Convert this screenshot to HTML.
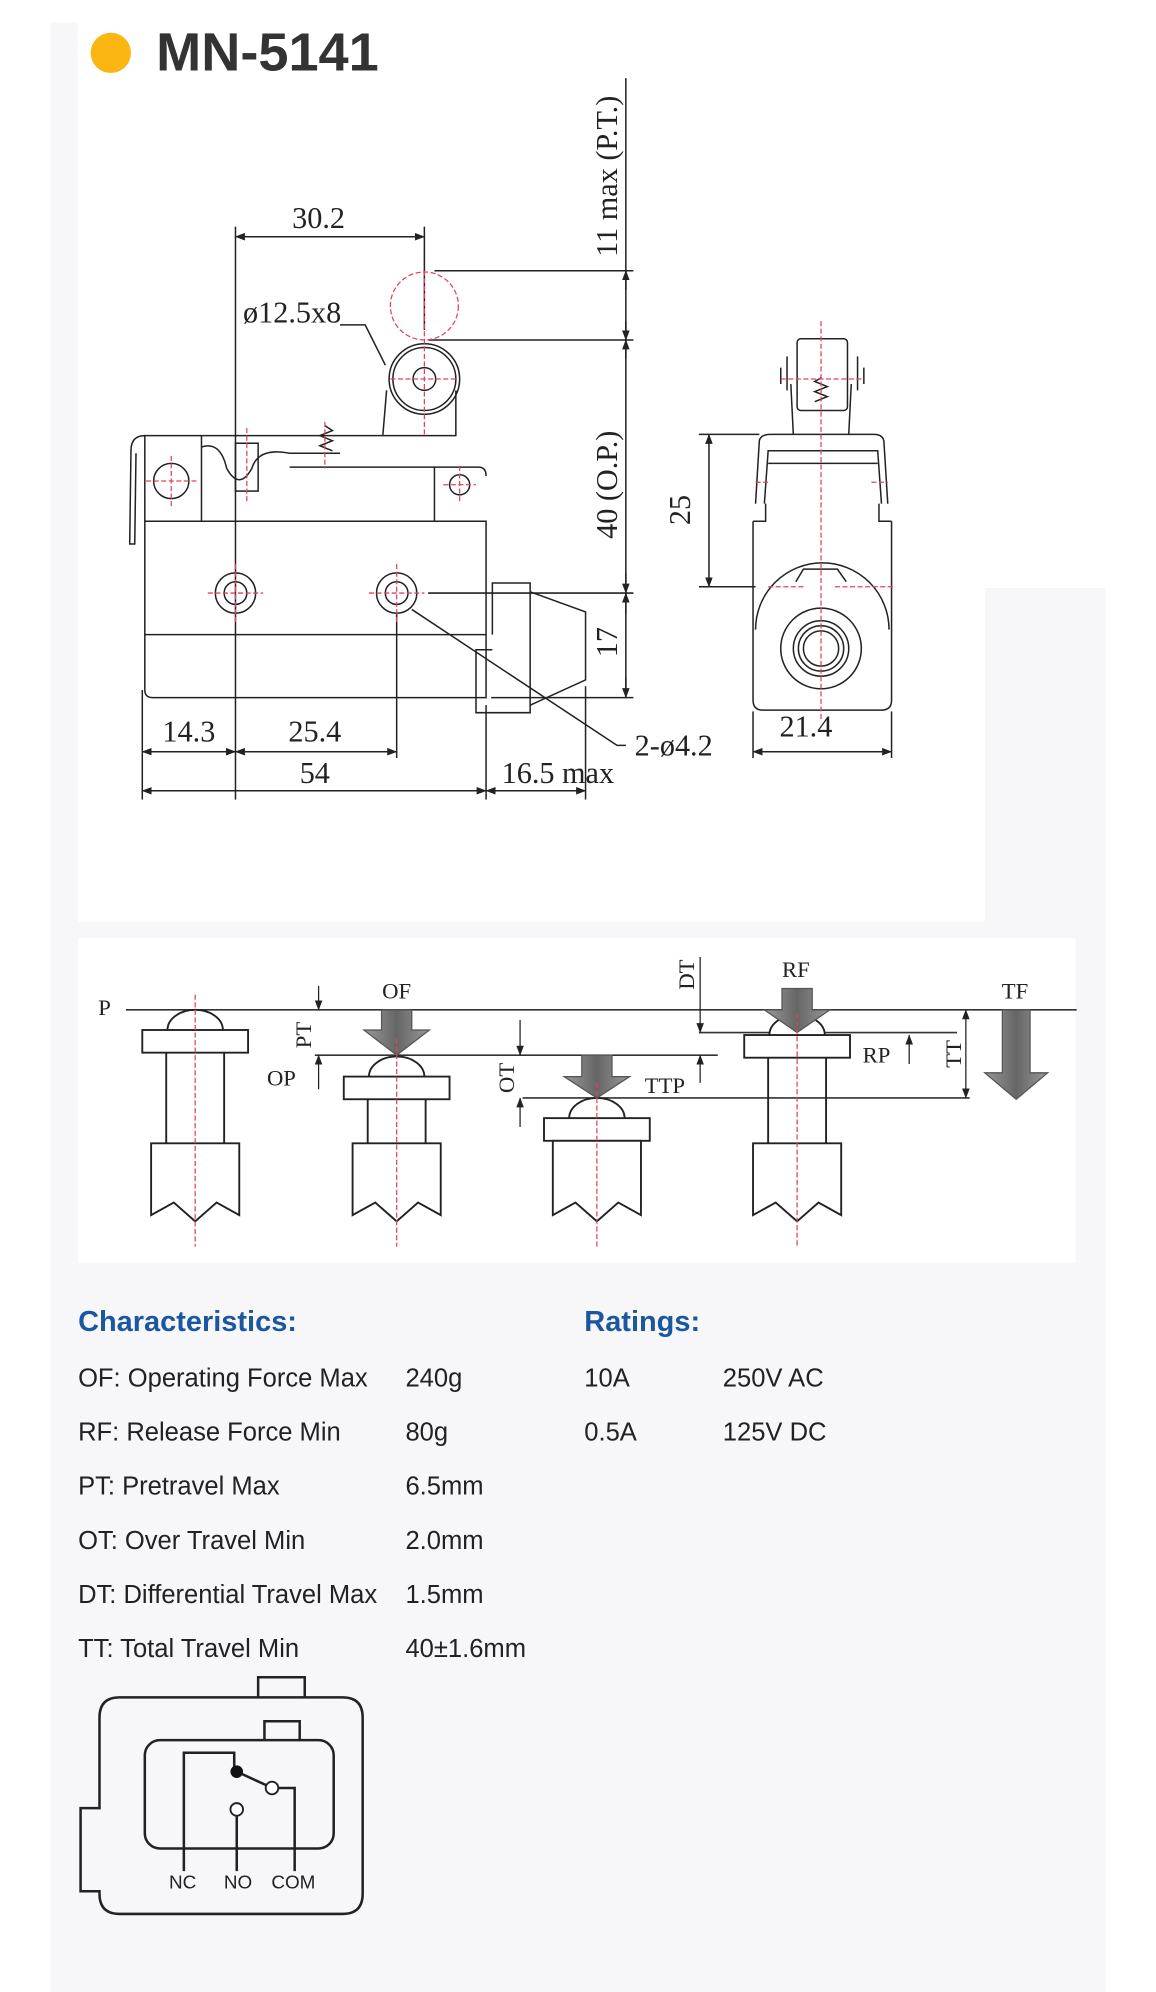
<!DOCTYPE html>
<html><head><meta charset="utf-8"><style>
html,body{margin:0;padding:0;background:#fff;}
svg{display:block;}
.s{font-family:"Liberation Serif",serif;fill:#222;}
</style></head><body>
<svg width="1156" height="1992" viewBox="0 0 918 1582" preserveAspectRatio="none" xmlns="http://www.w3.org/2000/svg">
<defs>
<marker id="ar" markerWidth="8" markerHeight="6" refX="7.5" refY="3" orient="auto" markerUnits="userSpaceOnUse"><path d="M0,0 L8,3 L0,6 z" fill="#222"/></marker>
<marker id="al" markerWidth="8" markerHeight="6" refX="0.5" refY="3" orient="auto" markerUnits="userSpaceOnUse"><path d="M8,0 L0,3 L8,6 z" fill="#222"/></marker>
<linearGradient id="g" x1="0" x2="1"><stop offset="0" stop-color="#999"/><stop offset=".5" stop-color="#666"/><stop offset="1" stop-color="#999"/></linearGradient>
</defs>
<rect x="40" y="18" width="838" height="1564" fill="#f7f7f9"/>
<rect x="782" y="0" width="136" height="467" fill="#fff"/>
<rect x="62" y="18" width="720" height="714" fill="#fff"/>
<rect x="62" y="745" width="792" height="258" fill="#fff"/>
<circle cx="88" cy="42" r="16" fill="#fbb612"/>
<text x="124" y="56" font-family="Liberation Sans,sans-serif" font-weight="bold" font-size="43" fill="#333">MN-5141</text>

<g fill="none" stroke="#222" stroke-width="1.2">
<path d="M115,414 V548 Q115,554 121,554 H386 V414 Z"/>
<line x1="115" y1="504" x2="386" y2="504"/>
<path d="M115,414 V346 H304"/>
<path d="M304,346 L307,310 M362,310 L362,346 H304"/>
<path d="M115,346 Q104,346 104,358 L103,432 H107 L108,360"/>
<circle cx="136" cy="382" r="14"/>
<line x1="160" y1="346" x2="160" y2="414"/>
<path d="M160,355 Q175,350 180,372 Q190,390 200,372 Q205,355 230,360 L270,360"/>
<path d="M230,371 H380 Q386,371 386,378"/>
<path d="M345,371 V414"/>
<circle cx="365" cy="385" r="8"/>
<rect x="187" y="352" width="18" height="38"/>
<circle cx="337" cy="301" r="28"/><circle cx="337" cy="301" r="25"/>
<circle cx="337" cy="301" r="9"/>
<circle cx="187" cy="471" r="16"/><circle cx="187" cy="471" r="9"/>
<circle cx="315" cy="471" r="16"/><circle cx="315" cy="471" r="9"/>
<path d="M391,504 V463 H421 V566 H378 V516 H391"/>
<path d="M421,470 L465,486 V540 L421,560"/>
<path d="M258,338 l6,4 -10,4 10,4 -10,4 10,4"/>
<line x1="187" y1="180" x2="187" y2="635"/>
<line x1="337" y1="180" x2="337" y2="262"/>
<line x1="187" y1="188" x2="337" y2="188" marker-start="url(#al)" marker-end="url(#ar)"/>
<line x1="345" y1="215" x2="503" y2="215"/>
<line x1="340" y1="270" x2="503" y2="270"/>
<line x1="340" y1="471" x2="503" y2="471"/>
<line x1="390" y1="554" x2="503" y2="554"/>
<line x1="497" y1="62" x2="497" y2="554"/>
<line x1="497" y1="230" x2="497" y2="215" marker-end="url(#ar)"/>
<line x1="497" y1="255" x2="497" y2="270" marker-end="url(#ar)"/>
<line x1="497" y1="285" x2="497" y2="270" marker-end="url(#ar)"/>
<line x1="497" y1="455" x2="497" y2="471" marker-end="url(#ar)"/>
<line x1="497" y1="487" x2="497" y2="471" marker-end="url(#ar)"/>
<line x1="497" y1="538" x2="497" y2="554" marker-end="url(#ar)"/>
<path d="M270,258 L290,258 L306,290"/>
<line x1="113" y1="548" x2="113" y2="635"/>
<line x1="315" y1="487" x2="315" y2="602"/>
<line x1="386" y1="560" x2="386" y2="635"/>
<line x1="465" y1="545" x2="465" y2="635"/>
<line x1="113" y1="597" x2="187" y2="597" marker-start="url(#al)" marker-end="url(#ar)"/>
<line x1="187" y1="597" x2="315" y2="597" marker-start="url(#al)" marker-end="url(#ar)"/>
<line x1="113" y1="628" x2="386" y2="628" marker-start="url(#al)" marker-end="url(#ar)"/>
<line x1="386" y1="628" x2="465" y2="628" marker-start="url(#al)" marker-end="url(#ar)"/>
<path d="M327,484 L490,592 L497,592"/>
<rect x="633" y="269" width="40" height="57" rx="3"/>
<path d="M625,283 V310 M681,283 V310 M620,292 V305 M686,292 V305"/>
<path d="M628,305 L630,345 M676,305 L674,345"/>
<path d="M600,400 L603,350 Q604,345 612,345 H694 Q702,345 702,352 L705,400"/>
<path d="M607,400 L610,358 H697 L700,400"/>
<line x1="610" y1="368" x2="697" y2="368"/>
<path d="M598,414 H608 V400 M708,414 H698 V400"/>
<path d="M598,414 V556 Q598,564 606,564 H700 Q708,564 708,556 V414"/>
<path d="M600,500 A53,53 0 0 1 706,500"/>
<path d="M632,462 L638,452 H665 L672,462"/>
<circle cx="652" cy="515" r="32"/>
<circle cx="652" cy="515" r="22"/><circle cx="652" cy="515" r="18"/><circle cx="652" cy="515" r="14"/>
<path d="M652,300 l-5,3 10,4 -10,4 10,4 -10,4"/>
<line x1="555" y1="345" x2="603" y2="345"/>
<line x1="555" y1="466" x2="600" y2="466"/>
<line x1="563" y1="345" x2="563" y2="466" marker-start="url(#al)" marker-end="url(#ar)"/>
<line x1="598" y1="565" x2="598" y2="602"/>
<line x1="708" y1="565" x2="708" y2="602"/>
<line x1="598" y1="597" x2="708" y2="597" marker-start="url(#al)" marker-end="url(#ar)"/>
</g>
<g stroke="#e0445e" stroke-width="1" stroke-dasharray="4,2" fill="none">
<circle cx="337" cy="243" r="27"/>
<line x1="337" y1="215" x2="337" y2="345"/>
<line x1="310" y1="301" x2="364" y2="301"/>
<line x1="136" y1="362" x2="136" y2="402"/><line x1="116" y1="382" x2="156" y2="382"/>
<line x1="365" y1="370" x2="365" y2="400"/><line x1="352" y1="385" x2="378" y2="385"/>
<line x1="196" y1="340" x2="196" y2="400"/><line x1="258" y1="335" x2="258" y2="372"/>
<line x1="187" y1="448" x2="187" y2="494"/><line x1="165" y1="471" x2="209" y2="471"/>
<line x1="315" y1="448" x2="315" y2="494"/><line x1="293" y1="471" x2="337" y2="471"/>
<line x1="652" y1="255" x2="652" y2="572"/>
<line x1="620" y1="301" x2="685" y2="301"/>
<line x1="610" y1="466" x2="640" y2="466"/><line x1="663" y1="466" x2="710" y2="466"/>
<line x1="600" y1="383" x2="612" y2="383"/><line x1="692" y1="383" x2="705" y2="383"/>
</g>
<g class="s" font-size="24">
<text x="253" y="181" text-anchor="middle">30.2</text>
<text x="232" y="256" text-anchor="middle">ø12.5x8</text>
<text x="150" y="589" text-anchor="middle">14.3</text>
<text x="250" y="589" text-anchor="middle">25.4</text>
<text x="250" y="622" text-anchor="middle">54</text>
<text x="443" y="622" text-anchor="middle">16.5 max</text>
<text x="535" y="600" text-anchor="middle">2-ø4.2</text>
<text x="640" y="585" text-anchor="middle">21.4</text>
<text transform="translate(490,140) rotate(-90)" text-anchor="middle">11 max (P.T.)</text>
<text transform="translate(490,385) rotate(-90)" text-anchor="middle">40 (O.P.)</text>
<text transform="translate(490,510) rotate(-90)" text-anchor="middle">17</text>
<text transform="translate(548,405) rotate(-90)" text-anchor="middle">25</text>
</g>

<g fill="none" stroke="#333" stroke-width="1.3">
<line x1="100" y1="802" x2="855" y2="802"/>
<line x1="250" y1="838" x2="570" y2="838"/>
<line x1="555" y1="820" x2="760" y2="820"/>
<line x1="415" y1="872" x2="770" y2="872"/>
</g>
<g fill="#fff" stroke="#222" stroke-width="1.5">
<path d="M133,818 A22,16 0 0 1 177,818"/>
<rect x="113" y="818" width="84" height="18"/>
<path d="M132,836 V908 M178,836 V908"/>
<path d="M120,908 H190 V965 L172,955 L155,970 L138,955 L120,965 Z"/>
<path d="M293,855 A22,16 0 0 1 337,855"/>
<rect x="273" y="855" width="84" height="18"/>
<path d="M292,873 V908 M338,873 V908"/>
<path d="M280,908 H350 V965 L332,955 L315,970 L298,955 L280,965 Z"/>
<path d="M452,888 A22,16 0 0 1 496,888"/>
<rect x="432" y="888" width="84" height="18"/>
<path d="M439,906 H509 V965 L491,955 L474,970 L457,955 L439,965 Z"/>
<path d="M611,822 A22,16 0 0 1 655,822"/>
<rect x="591" y="822" width="84" height="18"/>
<path d="M610,840 V908 M656,840 V908"/>
<path d="M598,908 H668 V965 L650,955 L633,970 L616,955 L598,965 Z"/>
</g>
<g fill="url(#g)" stroke="#555" stroke-width="1">
<path d="M303,802 H327 V818 H341 L315,838 L289,818 H303 Z"/>
<path d="M462,838 H486 V855 H500 L474,872 L448,855 H462 Z"/>
<path d="M621,785 H645 V802 H659 L633,820 L607,802 H621 Z"/>
<path d="M796,802 H818 V852 H832 L807,873 L782,852 H796 Z"/>
</g>
<g stroke="#e0445e" stroke-width="1" stroke-dasharray="4,2">
<line x1="155" y1="790" x2="155" y2="990"/>
<line x1="315" y1="825" x2="315" y2="990"/>
<line x1="474" y1="860" x2="474" y2="990"/>
<line x1="633" y1="805" x2="633" y2="990"/>
</g>
<g stroke="#222" stroke-width="1" fill="none">
<line x1="253" y1="783" x2="253" y2="802" marker-end="url(#ar)"/>
<line x1="253" y1="865" x2="253" y2="838" marker-end="url(#ar)"/>
<line x1="413" y1="810" x2="413" y2="838" marker-end="url(#ar)"/>
<line x1="413" y1="895" x2="413" y2="872" marker-end="url(#ar)"/>
<line x1="556" y1="760" x2="556" y2="820" marker-end="url(#ar)"/>
<line x1="556" y1="860" x2="556" y2="838" marker-end="url(#ar)"/>
<line x1="722" y1="845" x2="722" y2="822" marker-end="url(#ar)"/>
<line x1="767" y1="802" x2="767" y2="872" marker-start="url(#al)" marker-end="url(#ar)"/>
</g>
<g class="s" font-size="18">
<text x="78" y="806">P</text>
<text x="315" y="793" text-anchor="middle">OF</text>
<text x="212" y="862">OP</text>
<text x="528" y="868" text-anchor="middle">TTP</text>
<text x="632" y="776" text-anchor="middle">RF</text>
<text x="696" y="844" text-anchor="middle">RP</text>
<text x="806" y="793" text-anchor="middle">TF</text>
<text transform="translate(247,822) rotate(-90)" text-anchor="middle">PT</text>
<text transform="translate(408,856) rotate(-90)" text-anchor="middle">OT</text>
<text transform="translate(551,774) rotate(-90)" text-anchor="middle">DT</text>
<text transform="translate(763,837) rotate(-90)" text-anchor="middle">TT</text>
</g>

<g font-family="Liberation Sans,sans-serif">
<text x="62" y="1057" font-size="23" font-weight="bold" fill="#1a57a0">Characteristics:</text>
<text x="464" y="1057" font-size="23" font-weight="bold" fill="#1a57a0">Ratings:</text>
<g font-size="20.3" fill="#222">
<text x="62" y="1101">OF: Operating Force Max</text><text x="322" y="1101">240g</text>
<text x="62" y="1144">RF: Release Force Min</text><text x="322" y="1144">80g</text>
<text x="62" y="1187">PT: Pretravel Max</text><text x="322" y="1187">6.5mm</text>
<text x="62" y="1230">OT: Over Travel Min</text><text x="322" y="1230">2.0mm</text>
<text x="62" y="1273">DT: Differential Travel Max</text><text x="322" y="1273">1.5mm</text>
<text x="62" y="1316">TT: Total Travel Min</text><text x="322" y="1316">40±1.6mm</text>
<text x="464" y="1101">10A</text><text x="574" y="1101">250V AC</text>
<text x="464" y="1144">0.5A</text><text x="574" y="1144">125V DC</text>
</g>
</g>

<g fill="none" stroke="#222" stroke-width="2">
<path d="M205,1348 V1332 H242 V1348"/>
<path d="M95,1348 H272 Q288,1348 288,1364 V1504 Q288,1520 272,1520 H95 Q79,1520 79,1504 V1502 H64 V1436 H79 V1364 Q79,1348 95,1348 Z"/>
<path d="M210,1382 V1367 H238 V1382"/>
<rect x="115" y="1382" width="150" height="86" rx="12"/>
<path d="M146,1486 V1392 H186 V1405"/>
<line x1="188" y1="1407" x2="212" y2="1418"/>
<path d="M221,1420 H234 V1486"/>
<line x1="188" y1="1442" x2="188" y2="1486"/>
</g>
<circle cx="188" cy="1407" r="5" fill="#111"/>
<circle cx="216" cy="1420" r="5" fill="#fff" stroke="#222" stroke-width="1.5"/>
<circle cx="188" cy="1437" r="5" fill="#fff" stroke="#222" stroke-width="1.5"/>
<g font-family="Liberation Sans,sans-serif" font-size="15" fill="#222" text-anchor="middle">
<text x="145" y="1500">NC</text><text x="189" y="1500">NO</text><text x="233" y="1500">COM</text>
</g>
</svg>
</body></html>
